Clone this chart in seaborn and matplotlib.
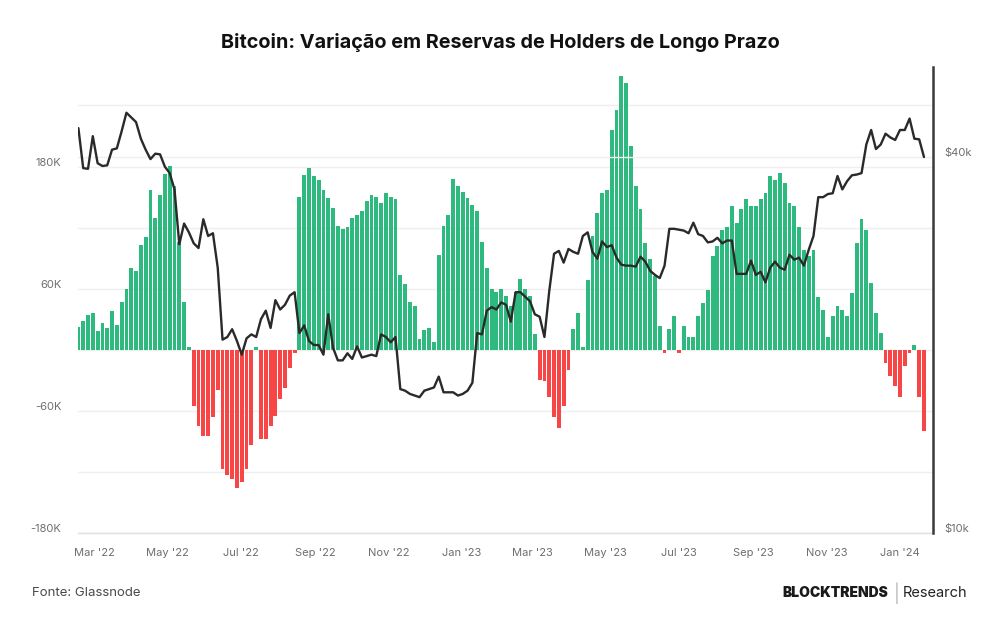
import pandas as pd
import numpy as np
import matplotlib
matplotlib.use("Agg")
import matplotlib.pyplot as plt
import matplotlib.dates as mdates
from matplotlib.ticker import FixedLocator, FixedFormatter
from matplotlib.transforms import ScaledTranslation
import seaborn as sns

# --- DATA (one value every 4 days) ---
START_DATE = "2022-02-16"
STEP = "4D"

# change in long-term holder reserves, thousands of BTC
lth_change_k = [
    22, 28, 34, 36, 18, 26, 21, 38, 24, 47,
    60, 80, 77, 103, 111, 157, 129, 152, 173, 181,
    161, 106, 47, 3, -55, -75, -85, -85, -66, -40,
    -117, -123, -127, -136, -130, -117, -94, 3, -88, -88,
    -75, -65, -48, -38, -18, -3, 150, 172, 179, 171,
    167, 157, 149, 139, 122, 119, 121, 129, 132, 136,
    146, 152, 150, 144, 154, 150, 148, 73, 65, 47,
    43, 11, 19, 21, 8, 93, 122, 132, 168, 161,
    155, 149, 142, 136, 106, 80, 60, 57, 60, 53,
    43, 57, 70, 60, 53, 15, -30, -31, -46, -66,
    -77, -55, -20, 20, 36, 3, 69, 112, 134, 154,
    157, 216, 236, 269, 262, 200, 161, 138, 105, 89,
    72, 23, -3, 20, 33, -3, 23, 13, 13, 33,
    46, 59, 92, 102, 118, 121, 141, 125, 138, 148,
    141, 141, 148, 154, 171, 167, 174, 164, 144, 141,
    121, 98, 92, 98, 52, 39, 13, 33, 43, 39,
    33, 56, 105, 128, 118, 66, 36, 16, -13, -26,
    -36, -46, -16, -3, 5, -46, -80,
]

# bitcoin price, thousands of USD
btc_price_k = [
    44.5, 38.4, 38.3, 43.2, 39.1, 38.7, 38.8, 41.1, 41.3, 44.0,
    47.1, 46.3, 45.5, 42.8, 41.1, 39.7, 40.5, 40.4, 38.6, 37.7,
    35.5, 29.0, 31.3, 30.3, 29.1, 28.6, 31.8, 29.9, 30.2, 26.6,
    20.4, 20.6, 21.2, 20.3, 19.3, 20.5, 20.8, 20.6, 22.0, 22.7,
    21.3, 23.6, 22.8, 23.2, 24.0, 24.3, 20.9, 21.5, 20.3, 20.0,
    20.0, 19.3, 22.4, 19.8, 18.9, 18.9, 19.4, 19.0, 19.9, 19.1,
    19.2, 19.3, 19.2, 20.8, 20.6, 20.2, 20.6, 17.0, 16.9, 16.7,
    16.6, 16.5, 16.9, 17.0, 17.1, 17.8, 16.8, 16.8, 16.8, 16.6,
    16.7, 16.9, 17.4, 20.9, 20.8, 22.7, 23.0, 22.8, 23.4, 23.2,
    21.8, 24.3, 24.3, 23.9, 23.5, 22.4, 22.2, 20.6, 24.4, 28.0,
    28.3, 27.1, 28.5, 28.2, 28.0, 29.9, 30.3, 28.2, 27.5, 29.3,
    28.7, 28.9, 27.6, 26.9, 26.8, 26.8, 26.7, 27.7, 27.2, 26.3,
    25.9, 25.6, 26.8, 30.7, 30.7, 30.6, 30.5, 30.2, 31.4, 30.1,
    29.9, 29.2, 29.3, 29.7, 29.1, 29.4, 29.4, 26.0, 26.0, 26.0,
    27.3, 25.9, 26.2, 25.2, 26.6, 27.2, 26.6, 26.4, 27.9, 27.4,
    27.6, 26.8, 28.4, 29.9, 34.5, 34.5, 34.9, 35.0, 37.3, 35.5,
    36.6, 37.4, 37.5, 37.7, 41.9, 44.2, 41.2, 41.9, 43.6, 43.0,
    42.6, 44.2, 44.2, 46.1, 42.8, 42.7, 40.0,
]

left_ticks_k = [-180, -120, -60, 0, 60, 120, 180, 240]
left_tick_labels = ["-180K", "", "-60K", "", "60K", "", "180K", ""]
right_ticks = [10000, 40000]
right_tick_labels = ["$10k", "$40k"]

TITLE = "Bitcoin: Variação em Reservas de Holders de Longo Prazo"
SOURCE = "Fonte: Glassnode"

GREEN = "#22b677"
RED = "#f83c3c"
LINE = "#2a2a2a"
TICK_GREY = "#6e6e6e"


def main():
    dates = pd.date_range(START_DATE, periods=len(lth_change_k), freq=STEP)
    df = pd.DataFrame({
        "date": dates,
        "x": mdates.date2num(dates),
        "change": lth_change_k,
        "price": [p * 1000 for p in btc_price_k],
    })
    df["sign"] = np.where(df["change"] >= 0, "pos", "neg")

    sns.set_theme(style="white")
    plt.rcParams["font.family"] = ["Inter", "DejaVu Sans"]

    fig = plt.figure(figsize=(10, 6.3), dpi=100)
    ax = fig.add_axes([0.078, 0.154, 0.855, 0.74])

    sns.barplot(data=df, x="x", y="change", hue="sign",
                palette={"pos": GREEN, "neg": RED}, native_scale=True,
                dodge=False, width=0.8, saturation=1, legend=False,
                linewidth=0, alpha=0.95, ax=ax)

    x0 = mdates.date2num(pd.Timestamp("2022-02-15 16:00"))
    x1 = mdates.date2num(pd.Timestamp("2024-01-28 12:00"))
    ax.set_xlim(x0, x1)
    ax.set_ylim(-180, 278)

    # labels sit a few pixels above their grid lines, as in the source
    lift = ScaledTranslation(0, 0.05, fig.dpi_scale_trans)

    ax.yaxis.set_major_locator(FixedLocator(left_ticks_k))
    ax.yaxis.set_major_formatter(FixedFormatter(left_tick_labels))
    ax.grid(axis="y", color="#efefef", linewidth=1)
    ax.set_axisbelow(True)
    ax.tick_params(axis="y", length=0, pad=12, labelsize=8, labelcolor=TICK_GREY)
    for lab in ax.get_yticklabels():
        lab.set_transform(lab.get_transform() + lift)

    ax.xaxis.set_major_locator(mdates.MonthLocator(bymonth=[1, 3, 5, 7, 9, 11]))
    ax.xaxis.set_major_formatter(mdates.DateFormatter("%b '%y"))
    ax.tick_params(axis="x", length=5, width=0.8, color="#e3e3e3",
                   labelsize=8, labelcolor=TICK_GREY, pad=6)
    ax.set_xlabel("")
    ax.set_ylabel("")

    for side in ["top", "left", "right"]:
        ax.spines[side].set_visible(False)
    ax.spines["bottom"].set_color("#e0e0e0")
    ax.spines["bottom"].set_linewidth(1)

    # price on a log scale, right axis
    ax2 = ax.twinx()
    sns.lineplot(x=df["x"], y=df["price"], ax=ax2, color=LINE, linewidth=1.7)
    ax2.set_yscale("log")
    ax2.set_ylim(10000, 55800)
    ax2.set_xlim(x0, x1)
    ax2.yaxis.set_major_locator(FixedLocator(right_ticks))
    ax2.yaxis.set_major_formatter(FixedFormatter(right_tick_labels))
    ax2.yaxis.set_minor_locator(FixedLocator([]))
    ax2.tick_params(axis="y", length=0, pad=8, labelsize=8, labelcolor=TICK_GREY)
    for lab in ax2.get_yticklabels():
        lab.set_transform(lab.get_transform() + lift)
    ax2.grid(axis="y", color="#efefef", linewidth=1)
    ax2.set_ylabel("")
    ax2.set_xlabel("")
    for side in ["top", "left", "bottom"]:
        ax2.spines[side].set_visible(False)
    ax2.spines["right"].set_color("#3a3a3a")
    ax2.spines["right"].set_linewidth(1.8)

    fig.text(0.5, 0.933, TITLE, ha="center", va="center",
             fontsize=14.3, fontweight="bold", color="#111111")
    fig.text(0.032, 0.059, SOURCE, ha="left", va="center",
             fontsize=9.5, color="#4a4a4a")
    fig.text(0.888, 0.059, "BLOCKTRENDS", ha="right", va="center",
             fontsize=10, fontweight="black", color="#1a1a1a")
    fig.text(0.897, 0.059, "|", ha="center", va="center",
             fontsize=13, color="#bbbbbb")
    fig.text(0.967, 0.059, "Research", ha="right", va="center",
             fontsize=10.5, color="#222222")

    fig.savefig("out.png", dpi=100)


if __name__ == "__main__":
    main()
